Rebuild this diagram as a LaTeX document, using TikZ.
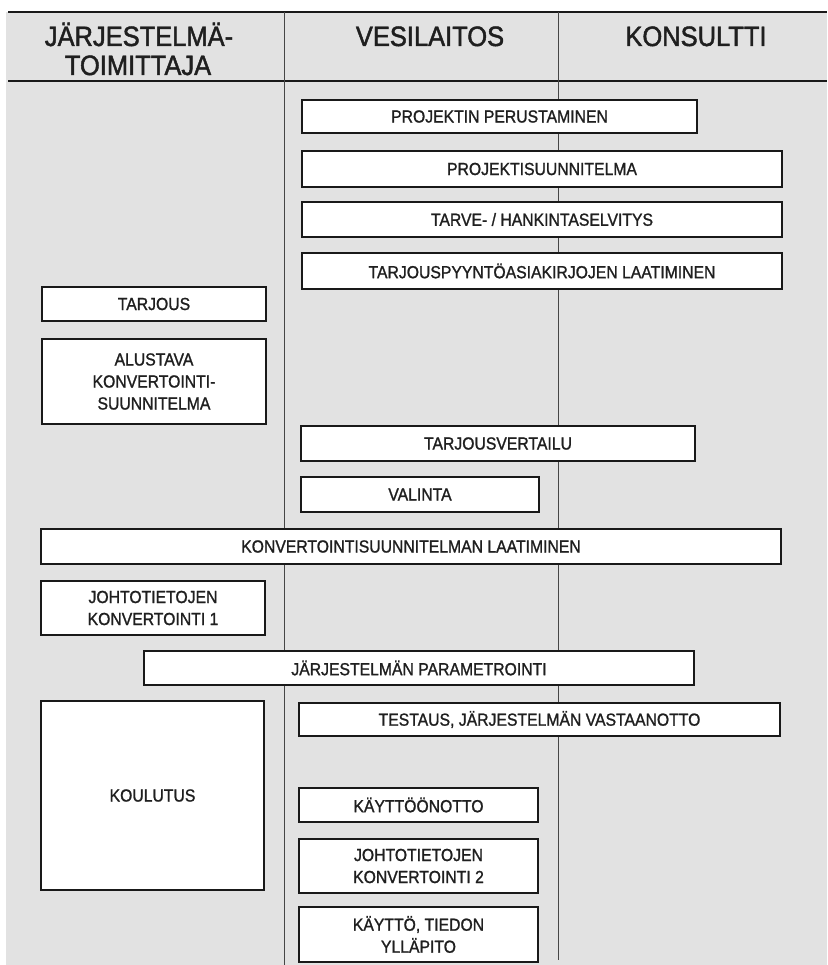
\documentclass[tikz,border=0pt]{standalone}
\usepackage{fontspec}
\usetikzlibrary{shadows}
\newfontfamily\narrowsans[FakeStretch=0.9,FakeBold=1.2]{Liberation Sans}
\newfontfamily\headsans[FakeStretch=0.91,FakeBold=1.6]{Liberation Sans}
\definecolor{bgscan}{RGB}{226,226,226}
\definecolor{inkline}{RGB}{25,25,25}
\definecolor{divline}{RGB}{70,70,70}
\begin{document}
\begin{tikzpicture}[x=1pt,y=-1pt,
  taskbox/.style={draw=inkline, line width=1.2pt, fill=white, inner sep=0pt,
    drop shadow={shadow xshift=1pt, shadow yshift=-1.2pt, fill=inkline, opacity=1},
    align=center, font=\narrowsans\fontsize{17.5}{22}\selectfont, text=black!88},
  headtext/.style={inner sep=0pt, anchor=base, font=\headsans\fontsize{28}{30}\selectfont, text=black!88},
  divider/.style={draw=divline, line width=0.9pt},
  rule/.style={draw=inkline, line width=1.2pt}]
\useasboundingbox (0,0) rectangle (827,965);
\fill[bgscan] (6,12) rectangle (827,965);
% header rules and column dividers
\coordinate (tl) at (8,12);
\coordinate (tr) at (827,12);
\coordinate (hl) at (8,81);
\coordinate (hr) at (827,81);
\coordinate (d1t) at (284,12);
\coordinate (d1b) at (284,965);
\coordinate (d2t) at (558,12);
\coordinate (d2b) at (558,960);
\draw[rule] (tl) -- (tr);
\draw[rule] (hl) -- (hr);
\draw[divider] (d1t) -- (d1b);
\draw[divider] (d2t) -- (d2b);
% headers
\node[headtext] (h1a) at (139,46) {JÄRJESTELMÄ-};
\node[headtext] (h1b) at (138,75) {TOIMITTAJA};
\node[headtext] (h2) at (430,46) {VESILAITOS};
\node[headtext] (h3) at (696,46) {KONSULTTI};
% tasks
\node[taskbox, minimum width=395pt, minimum height=33pt] (p1) at (499.5,116.5) {PROJEKTIN PERUSTAMINEN};
\node[taskbox, minimum width=480pt, minimum height=36pt] (p2) at (542,169) {PROJEKTISUUNNITELMA};
\node[taskbox, minimum width=480pt, minimum height=35pt] (p3) at (542,219.5) {TARVE- / HANKINTASELVITYS};
\node[taskbox, minimum width=480pt, minimum height=36pt] (p4) at (542,271) {TARJOUSPYYNTÖASIAKIRJOJEN LAATIMINEN};
\node[taskbox, minimum width=224pt, minimum height=34pt] (t1) at (154,304) {TARJOUS};
\node[taskbox, minimum width=224pt, minimum height=85pt] (t2) at (154,381.5) {ALUSTAVA\\KONVERTOINTI-\\SUUNNITELMA};
\node[taskbox, minimum width=394pt, minimum height=35pt] (v1) at (498,443.5) {TARJOUSVERTAILU};
\node[taskbox, minimum width=238pt, minimum height=35pt] (v2) at (420,494.5) {VALINTA};
\node[taskbox, minimum width=740pt, minimum height=35pt] (k1) at (411,546.5) {KONVERTOINTISUUNNITELMAN LAATIMINEN};
\node[taskbox, minimum width=224pt, minimum height=54pt] (j1) at (153,608) {JOHTOTIETOJEN\\KONVERTOINTI 1};
\node[taskbox, minimum width=550pt, minimum height=34pt] (jp) at (419,668) {JÄRJESTELMÄN PARAMETROINTI};
\node[taskbox, minimum width=223pt, minimum height=189pt] (ko) at (152.5,795.5) {KOULUTUS};
\node[taskbox, minimum width=481pt, minimum height=33pt] (te) at (539.5,719.5) {TESTAUS, JÄRJESTELMÄN VASTAANOTTO};
\node[taskbox, minimum width=239pt, minimum height=34pt] (ka) at (418.5,805) {KÄYTTÖÖNOTTO};
\node[taskbox, minimum width=239pt, minimum height=54pt] (j2) at (418.5,866) {JOHTOTIETOJEN\\KONVERTOINTI 2};
\node[taskbox, minimum width=239pt, minimum height=55pt] (ky) at (418.5,934.5) {KÄYTTÖ, TIEDON\\YLLÄPITO};
\end{tikzpicture}
\end{document}
